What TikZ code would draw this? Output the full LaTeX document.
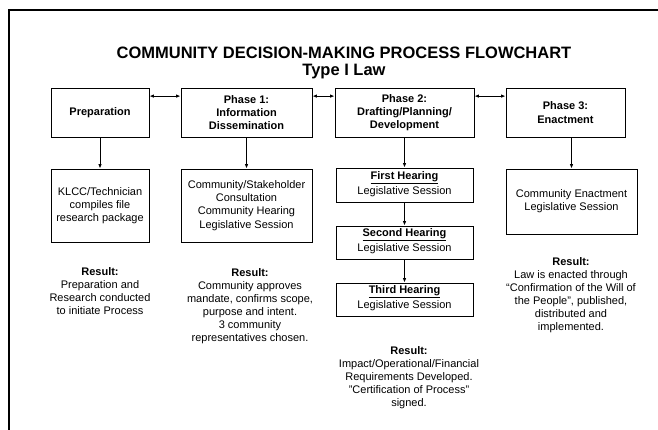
\documentclass[tikz,border=0pt]{standalone}
\usepackage{fontspec}
\setmainfont{Liberation Sans}
\usetikzlibrary{arrows.meta}
\newcommand{\ulhead}[1]{\underline{\smash{\textbf{#1}}\vphantom{g}}}
\begin{document}
\begin{tikzpicture}[x=1pt,y=-1pt,
  box/.style={draw,line width=0.8pt,inner sep=0pt,align=center,font=\fontsize{11}{13.3}\selectfont},
  res/.style={align=center,inner sep=0pt,font=\fontsize{11}{13}\selectfont},
  conn/.style={line width=0.9pt,-{Latex[length=4.5pt,width=3.5pt]}},
  dconn/.style={line width=0.9pt,{Latex[length=4.5pt,width=3.5pt]}-{Latex[length=4.5pt,width=3.5pt]}}]
\useasboundingbox (0,0) rectangle (658,430);
\draw[line width=2pt] (9,430) -- (9,10) -- (658,10);
\node[align=center,font=\fontsize{16.5}{17.5}\selectfont\bfseries] (title) at (344,63) {COMMUNITY DECISION-MAKING PROCESS FLOWCHART\\Type I Law};
% top row
\node[box,minimum width=98pt,minimum height=49pt] (prep) at (100,112.5) {\textbf{Preparation}};
\node[box,minimum width=131pt,minimum height=49pt] (p1) at (246.5,112.5) {\textbf{Phase 1:}\\\textbf{Information}\\\textbf{Dissemination}};
\node[box,minimum width=139pt,minimum height=49pt] (p2) at (404.5,112.5) {\textbf{Phase 2:}\\\textbf{Drafting/Planning/}\\\textbf{Development}};
\node[box,minimum width=119pt,minimum height=49pt] (p3) at (565.5,112.5) {\textbf{Phase 3:}\\\textbf{Enactment}};
% second row
\node[box,minimum width=98pt,minimum height=73pt] (kl) at (100,205.5) {KLCC/Technician\\compiles file\\research package};
\node[box,minimum width=131pt,minimum height=73pt] (cs) at (246.5,205.5) {Community/Stakeholder\\Consultation\\Community Hearing\\Legislative Session};
\node[box,minimum width=137pt,minimum height=34pt] (h1) at (404.5,185) {\ulhead{First Hearing}\\[1.5pt]Legislative Session};
\node[box,minimum width=137pt,minimum height=33pt] (h2) at (404.5,242.5) {\ulhead{Second Hearing}\\[1.5pt]Legislative Session};
\node[box,minimum width=137pt,minimum height=33pt] (h3) at (404.5,299.5) {\ulhead{Third Hearing}\\[1.5pt]Legislative Session};
\node[box,minimum width=131pt,minimum height=65pt] (en) at (571.5,201.5) {Community Enactment\\Legislative Session};
% results
\node[res] (r0) at (100,291.5) {\textbf{Result:}\\Preparation and\\Research conducted\\to initiate Process};
\node[res] (r1) at (250,306.5) {\textbf{Result:}\\Community approves\\mandate, confirms scope,\\purpose and intent.\\3 community\\representatives chosen.};
\node[res] (r2) at (409,377.5) {\textbf{Result:}\\Impact/Operational/Financial\\Requirements Developed.\\"Certification of Process"\\signed.};
\node[res] (r3) at (571,295.5) {\textbf{Result:}\\Law is enacted through\\``Confirmation of the Will of\\the People'', published,\\distributed and\\implemented.};
% connectors
\draw[dconn] ([yshift=-8.5pt]prep.north east) -- ([yshift=-8.5pt]p1.north west);
\draw[dconn] ([yshift=-8.5pt]p1.north east) -- ([yshift=-8.5pt]p2.north west);
\draw[dconn] ([yshift=-8.5pt]p2.north east) -- ([yshift=-8.5pt]p3.north west);
\draw[conn] (prep) -- (kl);
\draw[conn] (p1) -- (cs);
\draw[conn] (p2) -- (h1);
\draw[conn] (h1) -- (h2);
\draw[conn] (h2) -- (h3);
\draw[conn] (en.north |- p3.south) -- (en.north);
\end{tikzpicture}
\end{document}
